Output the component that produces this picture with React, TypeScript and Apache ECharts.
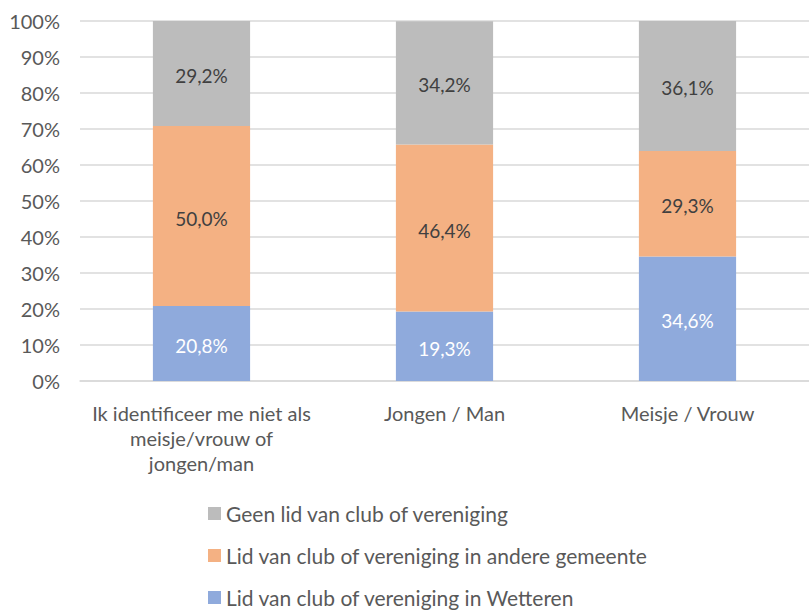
import React, { useEffect, useRef } from "react";
import * as echarts from "echarts";

const categories = [
  "Ik identificeer me niet als\nmeisje/vrouw of\njongen/man",
  "Jongen / Man",
  "Meisje / Vrouw",
];
const seriesNames = [
  "Lid van club of vereniging in Wetteren",
  "Lid van club of vereniging in andere gemeente",
  "Geen lid van club of vereniging",
];
const wetteren = [20.8, 19.3, 34.6];
const andereGemeente = [50.0, 46.4, 29.3];
const geenLid = [29.2, 34.2, 36.1];
const yTicks = { min: 0, max: 100, interval: 10 };

const FONT = "Lato, 'Open Sans', sans-serif";
const TEXT = "#595959";

export default function App() {
  const ref = useRef<HTMLDivElement>(null);
  useEffect(() => {
    if (!ref.current) return;
    const chart = echarts.init(ref.current, undefined, { renderer: "svg" });
    const fmt = (p: any) => Number(p.value).toFixed(1).replace(".", ",") + "%";
    const mk = (name: string, data: number[], color: string, labelColor: string) => ({
      name,
      type: "bar",
      stack: "total",
      barWidth: "40%",
      data,
      itemStyle: { color },
      label: {
        show: true,
        position: "inside",
        offset: [0, 2],
        formatter: fmt,
        color: labelColor,
        fontSize: 19,
        fontFamily: FONT,
      },
    });
    chart.setOption({
      animation: false,
      textStyle: { fontFamily: FONT },
      grid: { left: 80, top: 21, width: 740, height: 360, containLabel: false },
      xAxis: {
        type: "category",
        data: categories,
        axisLine: { show: true, lineStyle: { color: "#d9d9d9", width: 1.5 } },
        axisTick: { show: false },
        axisLabel: {
          color: TEXT,
          fontSize: 20,
          fontFamily: FONT,
          lineHeight: 25,
          margin: 19,
          interval: 0,
        },
      },
      yAxis: {
        type: "value",
        min: yTicks.min,
        max: yTicks.max,
        interval: yTicks.interval,
        axisLine: { show: false },
        axisTick: { show: false },
        splitLine: { lineStyle: { color: "#d9d9d9", width: 1.5 } },
        axisLabel: {
          color: TEXT,
          fontSize: 20,
          fontFamily: FONT,
          margin: 20,
          formatter: (v: number) => v + "%",
        },
      },
      legend: {
        orient: "vertical",
        left: 203,
        top: 498,
        height: 110,
        itemWidth: 13,
        itemHeight: 13,
        itemGap: 21,
        icon: "rect",
        data: [seriesNames[2], seriesNames[1], seriesNames[0]],
        textStyle: { color: TEXT, fontSize: 21, lineHeight: 21, fontFamily: FONT },
      },
      series: [
        mk(seriesNames[0], wetteren, "#8FAADC", "#ffffff"),
        mk(seriesNames[1], andereGemeente, "#F4B183", "#404040"),
        mk(seriesNames[2], geenLid, "#BCBCBC", "#404040"),
      ],
    });
    return () => chart.dispose();
  }, []);
  return (
    <div
      ref={ref}
      style={{ position: "absolute", left: 0, top: 0, width: 809, height: 610, background: "#fff" }}
    />
  );
}
